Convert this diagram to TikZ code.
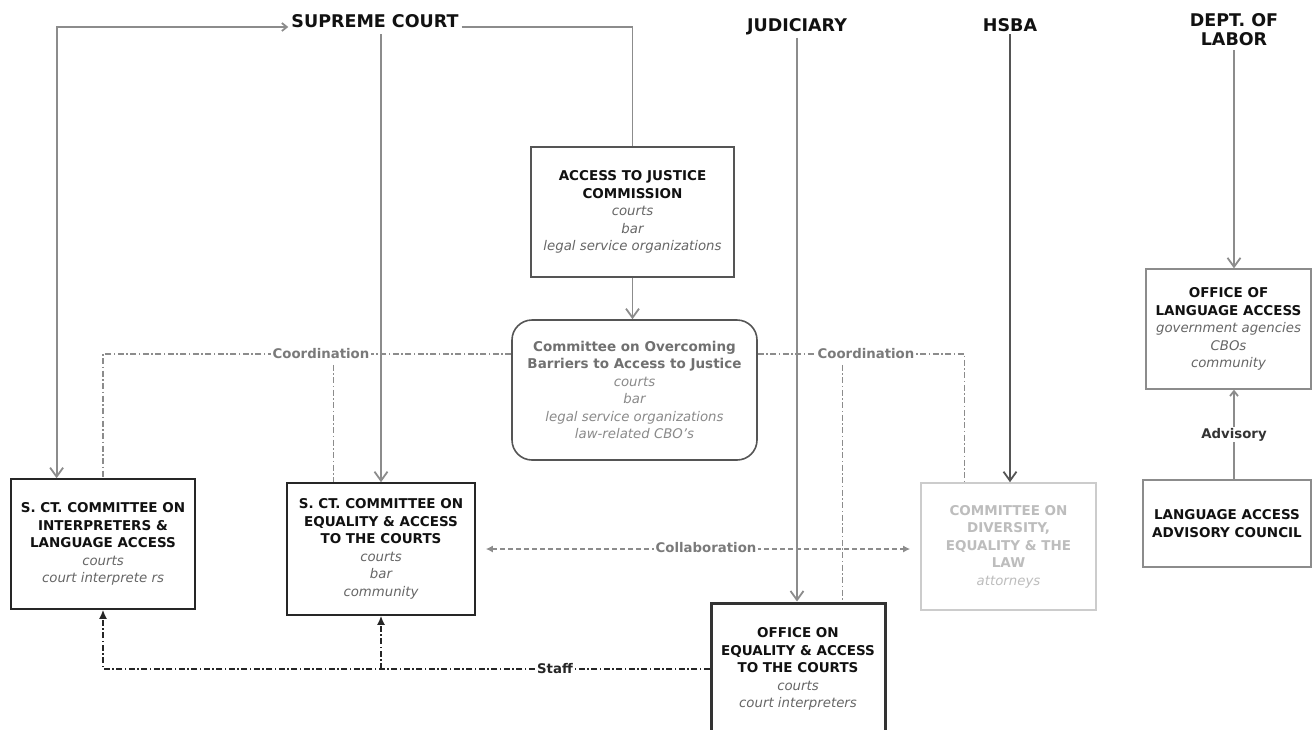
\documentclass[tikz,border=0pt]{standalone}
\usepackage{fontspec}
\setmainfont{DejaVu Sans}
\usetikzlibrary{arrows.meta,calc}
\definecolor{lineg}{HTML}{8C8C8C}
\definecolor{lined}{HTML}{555555}
\definecolor{itg}{HTML}{666666}
\definecolor{cobt}{HTML}{707070}
\definecolor{cobi}{HTML}{8A8A8A}
\definecolor{divt}{HTML}{BDBDBD}
\definecolor{divb}{HTML}{CCCCCC}
\definecolor{lblg}{HTML}{7A7A7A}
\definecolor{toptxt}{HTML}{111111}
\newcommand{\Bx}[2][toptxt]{{\bfseries\color{#1}#2}}
\newcommand{\Ix}[2][itg]{{\fontsize{13.3}{17.5}\selectfont\itshape\color{#1}#2}}
\begin{document}
\begin{tikzpicture}[x=1pt,y=-1pt,
  every node/.style={inner sep=0pt},
  box/.style={rectangle, draw=black!85, line width=1.6pt, fill=white, align=center,
    font=\fontsize{13.5}{17.5}\selectfont},
  toplbl/.style={font=\fontsize{17.5}{19.5}\selectfont\bfseries, text=toptxt, align=center, inner sep=3pt},
  lbl/.style={font=\fontsize{13.3}{15}\selectfont\bfseries, fill=white, inner sep=1.5pt},
  gl/.style={draw=lineg, line width=1.8pt},
  dl/.style={draw=lined, line width=1.8pt},
  cl/.style={draw=lineg, line width=1.3pt, dash pattern=on 6pt off 2.5pt on 1.5pt off 2.5pt},
  sl/.style={draw=black!85, line width=1.6pt, dash pattern=on 6pt off 2.5pt on 1.5pt off 2.5pt},
  coll/.style={draw=lineg, line width=1.5pt, dash pattern=on 5pt off 3pt},
  barb/.tip={Straight Barb[length=9pt,width=13pt]},
  sbarb/.tip={Straight Barb[length=5pt,width=8pt]},
  stafftip/.tip={Latex[length=9pt,width=8pt]},
  colltip/.tip={Latex[length=7pt,width=7pt]}
]
\useasboundingbox (0,0) rectangle (1312,729);
\clip (0,0) rectangle (1312,729);

% top labels
\node[toplbl, anchor=base] (sc) at (375,27) {SUPREME COURT};
\node[toplbl, anchor=base] (jud) at (797,31) {JUDICIARY};
\node[toplbl, anchor=base] (hsba) at (1010,31) {HSBA};
\node[toplbl, anchor=north, inner sep=2pt] (dol) at (1234,11) {DEPT. OF\\LABOR};

% boxes
\node[box, draw=lined, minimum width=203pt, minimum height=130pt] (ajc) at (632.5,212)
  {\Bx{ACCESS TO JUSTICE}\\\Bx{COMMISSION}\\\Ix{courts}\\\Ix{bar}\\\Ix{legal service organizations}};
\node[box, draw=lined, rounded corners=20pt, minimum width=245pt, minimum height=140pt] (cob) at (634.5,390)
  {\Bx[cobt]{Committee on Overcoming}\\\Bx[cobt]{Barriers to Access to Justice}\\\Ix[cobi]{courts}\\\Ix[cobi]{bar}\\\Ix[cobi]{legal service organizations}\\\Ix[cobi]{law-related CBO’s}};
\node[box, minimum width=184pt, minimum height=130pt] (interp) at (103,544)
  {\Bx{S. CT. COMMITTEE ON}\\\Bx{INTERPRETERS \&}\\\Bx{LANGUAGE ACCESS}\\\Ix{courts}\\\Ix{court interprete rs}};
\node[box, minimum width=188pt, minimum height=132pt] (eq) at (381,549)
  {\Bx{S. CT. COMMITTEE ON}\\\Bx{EQUALITY \& ACCESS}\\\Bx{TO THE COURTS}\\\Ix{courts}\\\Ix{bar}\\\Ix{community}};
\node[box, draw=divb, minimum width=175pt, minimum height=127pt] (div) at (1008.5,546.5)
  {\Bx[divt]{COMMITTEE ON}\\\Bx[divt]{DIVERSITY,}\\\Bx[divt]{EQUALITY \& THE}\\\Bx[divt]{LAW}\\\Ix[divt]{attorneys}};
\node[box, draw=black!80, line width=3pt, minimum width=174pt, minimum height=132pt] (office) at (798,669)
  {\Bx{OFFICE ON}\\\Bx{EQUALITY \& ACCESS}\\\Bx{TO THE COURTS}\\\Ix{courts}\\\Ix{court interpreters}};
\node[box, draw=lineg, line width=1.3pt, minimum width=165pt, minimum height=120pt] (ola) at (1228.5,329)
  {\Bx{OFFICE OF}\\\Bx{LANGUAGE ACCESS}\\\Ix{government agencies}\\\Ix{CBOs}\\\Ix{community}};
\node[box, draw=lineg, line width=1.3pt, minimum width=168pt, minimum height=87pt] (laac) at (1227,523.5)
  {\Bx{LANGUAGE ACCESS}\\\Bx{ADVISORY COUNCIL}};

% helper coordinates on box borders
\coordinate (interpA) at ($(interp.north west)!0.25!(interp.north east)$);
\coordinate (eqC) at ($(eq.north west)!0.25!(eq.north east)$);
\coordinate (divA) at ($(div.north west)!0.25!(div.north east)$);
\coordinate (offB) at ($(office.north west)!0.75!(office.north east)$);
\coordinate (cobL) at ($(cob.north west)!0.245!(cob.south west)$);
\coordinate (cobR) at ($(cob.north east)!0.245!(cob.south east)$);

% solid hierarchy lines
\draw[gl, sbarb-barb] (sc.base west) -| (interpA);
\draw[gl] (sc.base east) -| (ajc.north);
\draw[gl, -barb, shorten <=4pt] (sc.south -| eq.north) -- (eq.north);
\draw[gl, -barb] (ajc.south) -- (ajc.south |- cob.north);
\draw[gl, -barb] (jud.south) -- (jud.south |- office.north);
\draw[dl, -barb] (hsba.south) -- (hsba.south |- div.north);
\draw[gl, -barb, shorten <=2pt] (dol.south) -- (dol.south |- ola.north);
\draw[gl, -sbarb] (dol.south |- laac.north) -- (dol.south |- ola.south);
\node[lbl, text=black!80] (adv) at ($(dol.south |- laac.north)!0.5!(dol.south |- ola.south)$) {Advisory};

% coordination
\draw[cl] (cobL) -| (interp.north);
\node[lbl, text=lblg] (cL) at (321,354) {Coordination};
\draw[cl, shorten <=4pt] (cL.south -| eqC) -- (eqC);
\draw[cl] (cobR) -| (divA);
\node[lbl, text=lblg] (cR) at (866,354) {Coordination};
\draw[cl, shorten <=4pt] (cR.south -| offB) -- (offB);

% collaboration
\draw[coll, colltip-colltip, shorten <=10pt, shorten >=10pt] (eq.east) -- (eq.east -| div.west);
\node[lbl, text=lblg] (collab) at (706,548) {Collaboration};

% staff
\draw[sl, -stafftip] (office.west) -| (interp.south);
\draw[sl, -stafftip] (eq.south |- office.west) -- (eq.south);
\node[lbl, text=black!85] (staff) at (555,669) {Staff};
\end{tikzpicture}
\end{document}
